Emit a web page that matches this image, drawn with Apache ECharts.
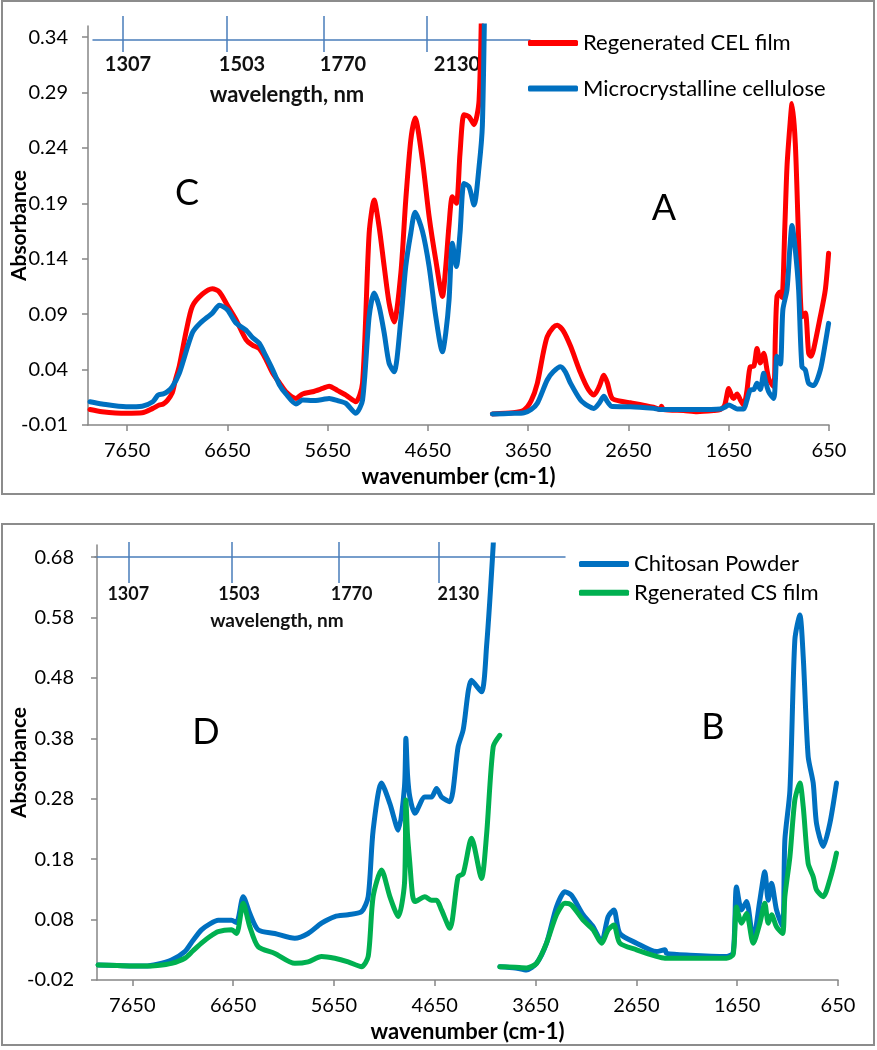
<!DOCTYPE html>
<html><head><meta charset="utf-8">
<script src="https://cdn.jsdelivr.net/npm/echarts@6/dist/echarts.min.js"></script>
<style>html,body{margin:0;padding:0;background:#fff}#c{width:877px;height:1050px}</style>
</head><body><div id="c"></div>
<script>
// ---------- tick labels ----------
const wavenumberTicks = [7650, 6650, 5650, 4650, 3650, 2650, 1650, 650];
const absTicksTop = [-0.01, 0.04, 0.09, 0.14, 0.19, 0.24, 0.29, 0.34];
const absTicksBottom = [-0.02, 0.08, 0.18, 0.28, 0.38, 0.48, 0.58, 0.68];
const wavelengthLabels = ['1307', '1503', '1770', '2130'];
// wavelength marks expressed on the wavenumber scale (cm-1)
const wlTickTop = [7691, 6654, 5686, 4659];
const wlLabelTop = [7641, 6504, 5497, 4360];
const wlTickBottom = [7690, 6665, 5597, 4605];
const wlLabelBottom = [7690, 6591, 5474, 4416];

// ---------- series names ----------
const namesTop = ['Regenerated CEL film', 'Microcrystalline cellulose'];
const namesBottom = ['Chitosan Powder', 'Rgenerated CS film'];

// ---------- data [wavenumber, absorbance] ----------
const celFilmNIR = [[8020,0.004],[7900,0.002],[7660,0.0006],[7500,0.001],[7394,0.005],[7330,0.008],[7290,0.009],[7250,0.012],[7200,0.019],[7170,0.030],[7130,0.043],[7060,0.075],[7000,0.097],[6900,0.108],[6800,0.113],[6730,0.110],[6650,0.098],[6564,0.085],[6464,0.067],[6400,0.062],[6332,0.059],[6270,0.050],[6199,0.037],[6130,0.028],[6066,0.020],[5966,0.014],[5900,0.018],[5800,0.020],[5700,0.023],[5635,0.025],[5550,0.021],[5468,0.017],[5369,0.011],[5302,0.028],[5236,0.163],[5186,0.193],[5137,0.169],[5086,0.133],[5037,0.100],[4987,0.083],[4920,0.127],[4871,0.193],[4821,0.247],[4778,0.267],[4705,0.229],[4638,0.178],[4572,0.139],[4505,0.106],[4472,0.133],[4439,0.171],[4406,0.196],[4366,0.190],[4330,0.235],[4290,0.270],[4240,0.268],[4190,0.261],[4140,0.283],[4110,0.40]];
const celFilmMIR = [[4007,0.000],[3800,0.001],[3692,0.0035],[3620,0.012],[3559,0.0276],[3500,0.055],[3460,0.0697],[3400,0.078],[3360,0.080],[3300,0.075],[3227,0.061],[3128,0.037],[3050,0.022],[2995,0.017],[2940,0.025],[2895,0.035],[2860,0.028],[2812,0.014],[2700,0.011],[2630,0.010],[2400,0.006],[2331,0.004],[2320,0.007],[2300,0.004],[2100,0.003],[1966,0.002],[1800,0.003],[1733,0.004],[1690,0.008],[1650,0.023],[1620,0.016],[1600,0.014],[1567,0.018],[1530,0.012],[1501,0.008],[1470,0.020],[1435,0.0426],[1400,0.043],[1368,0.059],[1335,0.046],[1302,0.0547],[1252,0.032],[1202,0.0246],[1185,0.070],[1169,0.1057],[1140,0.110],[1119,0.105],[1090,0.170],[1069,0.223],[1040,0.260],[1019,0.280],[986,0.244],[953,0.157],[920,0.0877],[886,0.091],[853,0.0547],[830,0.052],[804,0.058],[737,0.0877],[687,0.1118],[654,0.145]];
const mccNIR = [[8020,0.011],[7900,0.009],[7660,0.0065],[7500,0.007],[7394,0.011],[7340,0.017],[7290,0.018],[7250,0.020],[7200,0.0245],[7130,0.0366],[7000,0.073],[6920,0.082],[6800,0.091],[6730,0.098],[6650,0.094],[6564,0.082],[6464,0.0757],[6400,0.069],[6332,0.0637],[6270,0.053],[6199,0.040],[6130,0.026],[6066,0.018],[5966,0.009],[5900,0.0125],[5800,0.012],[5700,0.013],[5635,0.014],[5550,0.012],[5468,0.0095],[5369,0.0006],[5302,0.0125],[5236,0.088],[5186,0.109],[5137,0.097],[5086,0.073],[5037,0.0456],[4987,0.038],[4920,0.085],[4871,0.133],[4821,0.163],[4778,0.182],[4705,0.165],[4638,0.133],[4572,0.088],[4505,0.056],[4472,0.073],[4439,0.103],[4406,0.154],[4366,0.133],[4330,0.163],[4290,0.208],[4240,0.205],[4190,0.1885],[4140,0.223],[4107,0.260],[4080,0.40]];
const mccMIR = [[4007,0.000],[3800,0.0005],[3692,0.001],[3620,0.004],[3559,0.0096],[3460,0.0306],[3400,0.038],[3327,0.0426],[3280,0.038],[3227,0.0276],[3128,0.0126],[3050,0.007],[2995,0.005],[2940,0.010],[2895,0.016],[2860,0.011],[2812,0.0066],[2630,0.0065],[2400,0.005],[2331,0.004],[2100,0.004],[1966,0.004],[1733,0.0045],[1690,0.006],[1650,0.008],[1600,0.006],[1567,0.0045],[1501,0.0045],[1470,0.012],[1435,0.0216],[1400,0.022],[1368,0.0276],[1335,0.022],[1302,0.0366],[1285,0.030],[1252,0.020],[1202,0.014],[1185,0.030],[1169,0.052],[1135,0.045],[1110,0.094],[1069,0.112],[1040,0.150],[1019,0.170],[986,0.148],[953,0.112],[920,0.0426],[886,0.0396],[853,0.0276],[804,0.0256],[737,0.0396],[687,0.0637],[654,0.0817]];
const chitosanNIR = [[7989,0.005],[7800,0.004],[7526,0.003],[7400,0.006],[7261,0.013],[7129,0.027],[7050,0.045],[6964,0.063],[6880,0.073],[6798,0.079],[6666,0.079],[6616,0.075],[6550,0.118],[6484,0.090],[6401,0.063],[6236,0.057],[6038,0.049],[5906,0.057],[5773,0.074],[5641,0.085],[5509,0.088],[5376,0.093],[5310,0.118],[5261,0.228],[5178,0.306],[5095,0.272],[5012,0.228],[4950,0.300],[4936,0.380],[4920,0.320],[4897,0.283],[4847,0.256],[4748,0.283],[4682,0.283],[4632,0.297],[4583,0.283],[4500,0.275],[4418,0.366],[4368,0.394],[4285,0.476],[4186,0.457],[4136,0.532],[4070,0.700],[4060,0.750]];
const chitosanMIR = [[4004,0.002],[3850,0.000],[3740,-0.0035],[3640,0.0076],[3541,0.041],[3442,0.101],[3359,0.126],[3293,0.120],[3178,0.088],[3078,0.068],[2996,0.043],[2930,0.085],[2873,0.096],[2814,0.057],[2648,0.041],[2450,0.027],[2367,0.030],[2350,0.024],[2119,0.021],[1756,0.019],[1690,0.025],[1657,0.134],[1607,0.096],[1557,0.110],[1491,0.046],[1425,0.112],[1376,0.159],[1342,0.112],[1309,0.140],[1260,0.096],[1200,0.068],[1177,0.212],[1127,0.294],[1078,0.543],[1028,0.584],[995,0.515],[946,0.350],[896,0.306],[863,0.239],[797,0.201],[731,0.239],[665,0.306]];
const csFilmNIR = [[7989,0.005],[7800,0.004],[7526,0.003],[7400,0.004],[7261,0.0076],[7129,0.016],[7050,0.028],[6964,0.041],[6880,0.052],[6798,0.060],[6666,0.063],[6616,0.057],[6550,0.107],[6484,0.068],[6401,0.035],[6236,0.024],[6038,0.0076],[5906,0.010],[5773,0.019],[5641,0.016],[5509,0.010],[5376,0.002],[5310,0.019],[5261,0.118],[5178,0.162],[5095,0.118],[5012,0.085],[4950,0.140],[4936,0.278],[4920,0.220],[4897,0.173],[4870,0.120],[4847,0.110],[4748,0.118],[4682,0.112],[4632,0.112],[4583,0.096],[4500,0.0655],[4418,0.151],[4368,0.156],[4285,0.2145],[4186,0.148],[4136,0.220],[4070,0.366],[4004,0.385]];
const csFilmMIR = [[4004,0.002],[3850,0.001],[3740,0.000],[3640,0.0076],[3541,0.041],[3442,0.088],[3359,0.107],[3293,0.104],[3178,0.079],[3078,0.063],[2996,0.041],[2930,0.063],[2873,0.071],[2814,0.041],[2648,0.030],[2450,0.019],[2367,0.016],[2119,0.016],[1756,0.016],[1690,0.022],[1657,0.101],[1607,0.074],[1557,0.090],[1491,0.041],[1425,0.074],[1376,0.107],[1342,0.074],[1309,0.088],[1260,0.068],[1200,0.057],[1177,0.118],[1127,0.184],[1078,0.278],[1028,0.306],[995,0.267],[946,0.173],[896,0.151],[863,0.129],[797,0.118],[731,0.146],[665,0.190]];

// ---------- build ----------
const FONT = 'Lato, "Open Sans", sans-serif';
const AXIS_GRAY = '#868686';
const WL_BLUE = '#4A7EBB';
function joinSegments(a, b) {
  const gapX = (a[a.length - 1][0] + b[0][0]) / 2;
  return a.concat([[gapX, '-']], b);
}
function mainX(grid, min, max) {
  return {
    type: 'value', gridIndex: grid, min: min, max: max, inverse: true,
    name: 'wavenumber (cm-1)', nameLocation: 'middle', nameGap: 41, nameMoveOverlap: false,
    nameTextStyle: { fontFamily: FONT, fontSize: 22, fontWeight: 'bold', color: '#000' },
    axisLine: { show: true, onZero: false, lineStyle: { color: AXIS_GRAY, width: 1.5 } },
    axisTick: { show: true, length: 6, customValues: wavenumberTicks, lineStyle: { color: AXIS_GRAY, width: 1.5 } },
    axisLabel: { customValues: wavenumberTicks, margin: 16, fontFamily: FONT, fontSize: 20, color: '#000',
      formatter: v => String(v) },
    splitLine: { show: false }
  };
}
function mainY(grid, min, max, ticks, gap, margin) {
  return {
    type: 'value', gridIndex: grid, min: min, max: max,
    name: 'Absorbance', nameLocation: 'middle', nameGap: gap, nameRotate: 90, nameMoveOverlap: false,
    nameTextStyle: { fontFamily: FONT, fontSize: 21, fontWeight: 'bold', color: '#000' },
    axisLine: { show: true, onZero: false, lineStyle: { color: AXIS_GRAY, width: 1.5 } },
    axisTick: { show: true, length: 6, customValues: ticks, lineStyle: { color: AXIS_GRAY, width: 1.5 } },
    axisLabel: { customValues: ticks, margin: margin, fontFamily: FONT, fontSize: 20, color: '#000',
      formatter: v => v.toFixed(2) },
    splitLine: { show: false }
  };
}
function wlAxes(grid, min, max, ticks, labelPos, downLen, upLen, labelMargin, fontSize) {
  return [{
    type: 'value', gridIndex: grid, min: min, max: max, inverse: true, position: 'bottom',
    axisLine: { show: true, onZero: false, lineStyle: { color: WL_BLUE, width: 1.5 } },
    axisTick: { show: true, inside: false, length: downLen, customValues: ticks, lineStyle: { color: WL_BLUE, width: 1.5 } },
    axisLabel: { customValues: labelPos, margin: labelMargin, fontFamily: FONT, fontSize: fontSize, fontWeight: 'bold', color: '#111',
      formatter: v => wavelengthLabels[labelPos.indexOf(v)] },
    splitLine: { show: false }
  }, {
    type: 'value', gridIndex: grid, min: min, max: max, inverse: true, position: 'bottom',
    axisLine: { show: false },
    axisTick: { show: true, inside: true, length: upLen, customValues: ticks, lineStyle: { color: WL_BLUE, width: 1.5 } },
    axisLabel: { show: false },
    splitLine: { show: false }
  }];
}
function lineSeries(name, data, color, xi, yi) {
  return {
    type: 'line', name: name, data: data, xAxisIndex: xi, yAxisIndex: yi,
    showSymbol: false, symbol: 'none', smooth: 0.25, connectNulls: false,
    lineStyle: { color: color, width: 5, cap: 'round', join: 'round' }, itemStyle: { color: color }
  };
}
function legendCfg(names, left, top, gap) {
  return {
    data: names, orient: 'vertical', left: left, top: top, padding: 0,
    itemWidth: 50, itemHeight: 6, itemGap: gap, icon: 'roundRect',
    textStyle: { fontFamily: FONT, fontSize: 22, color: '#000', lineHeight: 24 }
  };
}
function label(text, x, y) {
  return { type: 'text', x: x, y: y, z: 10,
    style: { text: text, fontFamily: FONT, fontSize: 36, fill: '#000', align: 'center', verticalAlign: 'middle' } };
}

const chart = echarts.init(document.getElementById('c'), null, { renderer: 'canvas' });
chart.setOption({
  animation: false,
  backgroundColor: '#fff',
  grid: [
    { left: 88, top: 26, width: 741, height: 399, containLabel: false, outerBoundsMode: 'none' },
    { left: 97, top: 545, width: 741, height: 435, containLabel: false, outerBoundsMode: 'none' },
    { left: 93, top: 39, width: 437, height: 1, containLabel: false, outerBoundsMode: 'none' },
    { left: 95, top: 556, width: 470, height: 1, containLabel: false, outerBoundsMode: 'none' }
  ],
  xAxis: [
    mainX(0, 650, 8040),
    mainX(1, 650, 8000),
    ...wlAxes(2, 3632, 7990, wlTickTop, wlLabelTop, 12, 24, 15, 20),
    ...wlAxes(3, 3357, 8020, wlTickBottom, wlLabelBottom, 26, 15, 28, 18)
  ],
  yAxis: [
    mainY(0, -0.01, 0.35, absTicksTop, 58, 20),
    mainY(1, -0.02, 0.70, absTicksBottom, 67, 23),
    { type: 'value', gridIndex: 2, min: 0, max: 1, show: false },
    { type: 'value', gridIndex: 3, min: 0, max: 1, show: false }
  ],
  legend: [
    legendCfg(namesTop, 528, 31, 21.6),
    legendCfg(namesBottom, 579, 552, 4.7)
  ],
  series: [
    lineSeries(namesTop[0], joinSegments(celFilmNIR, celFilmMIR), '#FF0000', 0, 0),
    lineSeries(namesTop[1], joinSegments(mccNIR, mccMIR), '#0070C0', 0, 0),
    lineSeries(namesBottom[0], joinSegments(chitosanNIR, chitosanMIR), '#0070C0', 1, 1),
    lineSeries(namesBottom[1], joinSegments(csFilmNIR, csFilmMIR), '#00B050', 1, 1)
  ],
  graphic: [
    { type: 'rect', shape: { x: 2, y: 1, width: 872, height: 493 }, style: { fill: 'none', stroke: '#8c8c8c', lineWidth: 2 } },
    { type: 'rect', shape: { x: 2, y: 524, width: 872, height: 521 }, style: { fill: 'none', stroke: '#8c8c8c', lineWidth: 2 } },
    { type: 'text', x: 287, y: 95, style: { text: 'wavelength, nm', fontFamily: FONT, fontSize: 22, fontWeight: 'bold', fill: '#111', align: 'center', verticalAlign: 'middle' } },
    { type: 'text', x: 277, y: 621, style: { text: 'wavelength, nm', fontFamily: FONT, fontSize: 19, fontWeight: 'bold', fill: '#111', align: 'center', verticalAlign: 'middle' } },
    label('C', 187, 193),
    label('A', 664, 208),
    label('D', 206, 732),
    label('B', 713, 727)
  ]
});
</script></body></html>
